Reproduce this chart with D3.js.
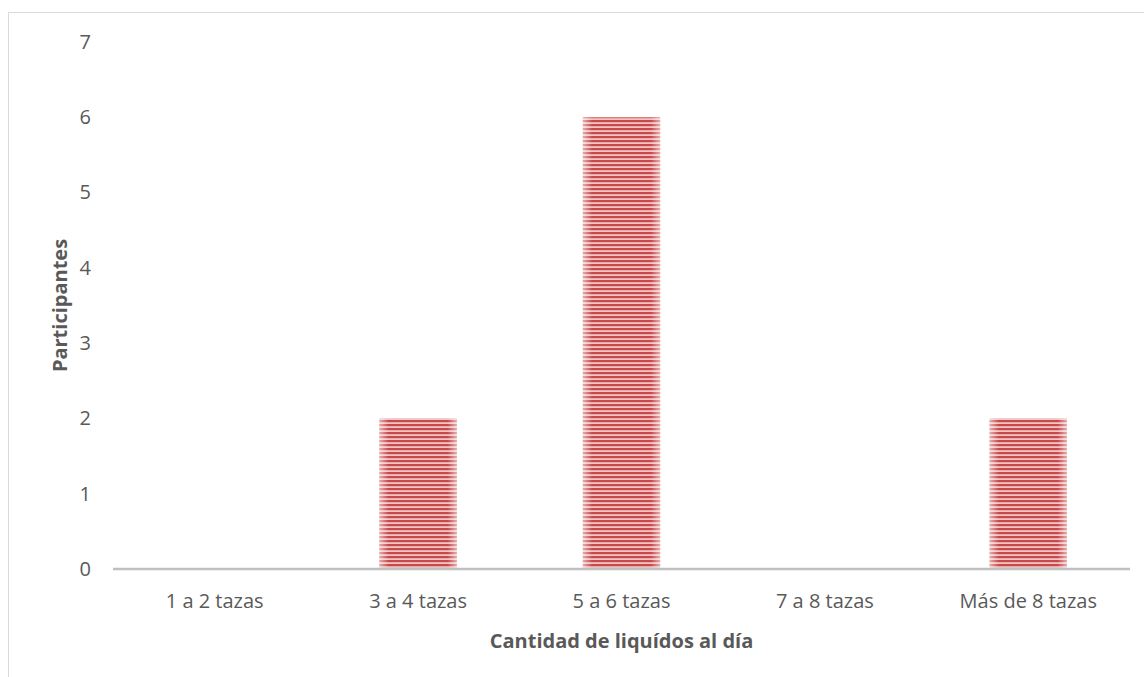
<!DOCTYPE html>
<html>
<head>
<meta charset="utf-8">
<script src="https://cdn.jsdelivr.net/npm/d3@7"></script>
<style>
  html, body { margin: 0; padding: 0; background: #fff; }
  svg { display: block; font-family: "Open Sans", sans-serif; }
</style>
</head>
<body>
<svg id="chart" width="1144" height="677"></svg>
<script>
// Cantidad de líquidos consumidos al día por participante
const categories = ["1 a 2 tazas", "3 a 4 tazas", "5 a 6 tazas", "7 a 8 tazas", "Más de 8 tazas"];
const participants = [0, 2, 6, 0, 2];
const yTicks = [0, 1, 2, 3, 4, 5, 6, 7];
const xTitle = "Cantidad de liquídos al día";
const yTitle = "Participantes";

const svg = d3.select("#chart");
const margin = { left: 113, right: 14, top: 42, bottom: 108 };
const W = 1144, H = 677;
const font = "'Open Sans', sans-serif";

// chart frame
svg.append("rect")
  .attr("x", 8.5).attr("y", 12.5)
  .attr("width", W + 10).attr("height", H + 10)
  .attr("fill", "#fff").attr("stroke", "#d9d9d9").attr("stroke-width", 1);

const x = d3.scaleBand().domain(categories)
  .range([margin.left, W - margin.right]).paddingInner(0.62).paddingOuter(0.31);
const y = d3.scaleLinear().domain([0, 7]).range([H - margin.bottom, margin.top]);

// striped fill for the bars
const defs = svg.append("defs");
const pat = defs.append("pattern")
  .attr("id", "stripes").attr("patternUnits", "userSpaceOnUse")
  .attr("width", 8).attr("height", 4);
pat.append("rect").attr("width", 8).attr("height", 4).attr("fill", "#efc4c3");
pat.append("rect").attr("y", 0).attr("width", 8).attr("height", 2.2).attr("fill", "#c9484a");

const grad = defs.append("linearGradient").attr("id", "edgeGlow")
  .attr("x1", "0%").attr("x2", "100%").attr("y1", "0%").attr("y2", "0%");
grad.append("stop").attr("offset", "0%").attr("stop-color", "#fff").attr("stop-opacity", 0.55);
grad.append("stop").attr("offset", "12%").attr("stop-color", "#fff").attr("stop-opacity", 0);
grad.append("stop").attr("offset", "88%").attr("stop-color", "#fff").attr("stop-opacity", 0);
grad.append("stop").attr("offset", "100%").attr("stop-color", "#fff").attr("stop-opacity", 0.55);

const data = categories.map((c, i) => ({ c, v: participants[i] }));
const bars = svg.append("g").selectAll("g").data(data.filter(d => d.v > 0)).join("g");
bars.append("rect")
  .attr("x", d => x(d.c)).attr("y", d => y(d.v))
  .attr("width", x.bandwidth()).attr("height", d => y(0) - y(d.v))
  .attr("fill", "url(#stripes)");
bars.append("rect")
  .attr("x", d => x(d.c)).attr("y", d => y(d.v))
  .attr("width", x.bandwidth()).attr("height", d => y(0) - y(d.v))
  .attr("fill", "url(#edgeGlow)");

// y axis (labels only)
const yAxis = svg.append("g")
  .attr("transform", `translate(${margin.left - 22},0)`)
  .call(d3.axisLeft(y).tickValues(yTicks).tickSize(0).tickPadding(0).tickFormat(d3.format("d")));
yAxis.select(".domain").remove();
yAxis.selectAll("text").attr("fill", "#595959").style("font-size", "20px").style("font-family", font);

// x axis
const xAxis = svg.append("g")
  .attr("transform", `translate(0,${y(0)})`)
  .call(d3.axisBottom(x).tickSize(0).tickPadding(25));
xAxis.select(".domain").attr("stroke", "#bfbfbf").attr("stroke-width", 2.5)
  .attr("d", `M${margin.left},0H${W - margin.right}`);
xAxis.selectAll("text").attr("fill", "#595959").style("font-size", "20px").style("font-family", font);

// axis titles
svg.append("text")
  .attr("x", (margin.left + W - margin.right) / 2).attr("y", 648)
  .attr("text-anchor", "middle").attr("fill", "#595959")
  .style("font-size", "20px").style("font-weight", "bold").style("font-family", font)
  .text(xTitle);
svg.append("text")
  .attr("transform", `translate(67,${(y(0) + y(7)) / 2}) rotate(-90)`)
  .attr("text-anchor", "middle").attr("fill", "#595959")
  .style("font-size", "20px").style("font-weight", "bold").style("font-family", font)
  .text(yTitle);
</script>
</body>
</html>
